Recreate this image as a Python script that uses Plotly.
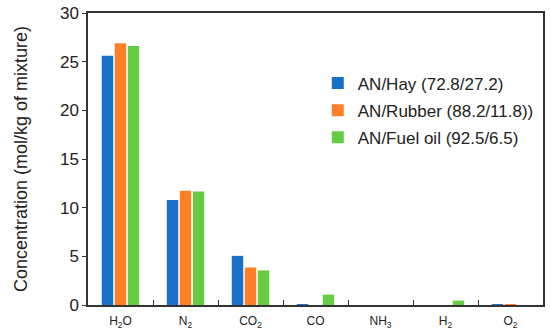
import plotly.graph_objects as go

# Species (x categories)
species = ['H<sub>2</sub>O', 'N<sub>2</sub>', 'CO<sub>2</sub>', 'CO',
           'NH<sub>3</sub>', 'H<sub>2</sub>', 'O<sub>2</sub>']

# Concentrations, mol/kg of mixture
hay = [25.6, 10.8, 5.05, 0.05, 0.0, 0.0, 0.05]
rubber = [26.9, 11.75, 3.85, 0.0, 0.0, 0.0, 0.1]
fuel_oil = [26.6, 11.65, 3.55, 1.07, 0.0, 0.45, 0.0]

names = ['AN/Hay (72.8/27.2)', 'AN/Rubber (88.2/11.8))', 'AN/Fuel oil (92.5/6.5)']
colors = ['#1a6fc9', '#ff7f27', '#66cc44']

fig = go.Figure()
for i, (name, vals, col) in enumerate(zip(names, [hay, rubber, fuel_oil], colors)):
    fig.add_trace(go.Bar(x=species, y=vals, name=name, legendgroup=str(i),
                         marker=dict(color=col, line=dict(width=0))))

fig.update_layout(
    width=550, height=333,
    margin=dict(l=88, r=7, t=13, b=28),
    barmode='group', bargap=0.4, bargroupgap=0.12,
    paper_bgcolor='white', plot_bgcolor='white',
    font=dict(family='Arial, Liberation Sans, sans-serif', color='#222'),
    legend=dict(x=0.505, y=0.82, xanchor='left', yanchor='top',
                font=dict(size=17), itemwidth=30, tracegroupgap=2,
                bgcolor='rgba(0,0,0,0)'),
)

fig.update_xaxes(
    showline=True, linecolor='#333', linewidth=1.5, mirror=True,
    ticks='inside', tickson='boundaries', ticklen=5, tickcolor='#333',
    tickfont=dict(size=12), showgrid=False,
    ticklabelstandoff=4, automargin=False,
)
fig.update_yaxes(
    range=[0, 30], dtick=5,
    showline=True, linecolor='#333', linewidth=1.5, mirror=True,
    ticks='outside', ticklen=4, tickcolor='#333',
    tickfont=dict(size=17), showgrid=False, zeroline=False,
    automargin=False,
    title=dict(text='Concentration (mol/kg of mixture)', font=dict(size=18), standoff=28),
)

# drop the default 8px body margin so the figure fills the window
fig.write_html("out.html", config={'displayModeBar': False},
               post_script="document.body.style.margin='0';")
